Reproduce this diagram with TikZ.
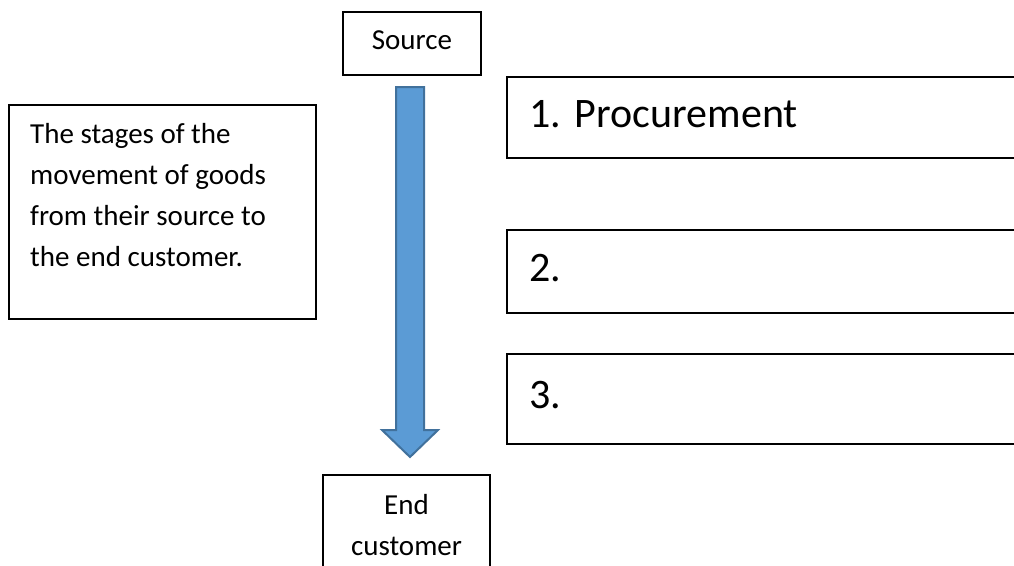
\documentclass[tikz,border=0pt]{standalone}
\usepackage{fontspec}
\setmainfont{Carlito}
\usetikzlibrary{calc}
\definecolor{arrowfill}{HTML}{5B9BD5}
\definecolor{arrowedge}{HTML}{41719C}
\frenchspacing

\begin{document}
\begin{tikzpicture}[x=1pt, y=-1pt,
    box/.style={draw, line width=2pt, inner sep=0pt},
    small/.style={font=\fontsize{29}{41}\selectfont},
    big/.style={font=\fontsize{42}{50}\selectfont},
    stagebox/.style={box, big, anchor=north west, inner xsep=22pt,
        text width=600pt, align=left, text height=30pt, text depth=11pt},
    blockarrow/.style={draw=arrowedge, fill=arrowfill, line width=2pt, line join=miter}]
    \useasboundingbox (0,0) rectangle (1014,565);
    \node[box, small, minimum width=138, minimum height=63,
        text height=20pt, text depth=8pt] (source) at (412,43.5) {Source};
    \node[box, small, anchor=north, minimum width=167, minimum height=100,
        align=center] (endcust) at (406.5,474) {End\\customer};
    \node[box, anchor=north west, minimum width=307, minimum height=214] (desc) at (8,104) {};
    \node[small, anchor=north west, align=left, inner sep=0pt] (desctext)
        at ($(desc.north west)+(22,19)$)
        {The stages of the\\movement of goods\\from their source to\\the end customer.};
    \node[stagebox, minimum height=81] (stage1) at (506,76) {1. Procurement};
    \node[stagebox, minimum height=83] (stage2) at (506,229) {2.};
    \node[stagebox, minimum height=90] (stage3) at (506,353) {3.};
    \coordinate (arrowtop) at ($(source.south)+(-2,11)$);
    \coordinate (arrowtip) at ($(endcust.north)+(3.5,-17)$);
    \draw[blockarrow] ($(arrowtop)+(-14,0)$) -- ($(arrowtop)+(14,0)$)
        -- ($(arrowtip)+(14,-27)$) -- ($(arrowtip)+(28,-27)$) -- (arrowtip)
        -- ($(arrowtip)+(-28,-27)$) -- ($(arrowtip)+(-14,-27)$) -- cycle;
\end{tikzpicture}
\end{document}
